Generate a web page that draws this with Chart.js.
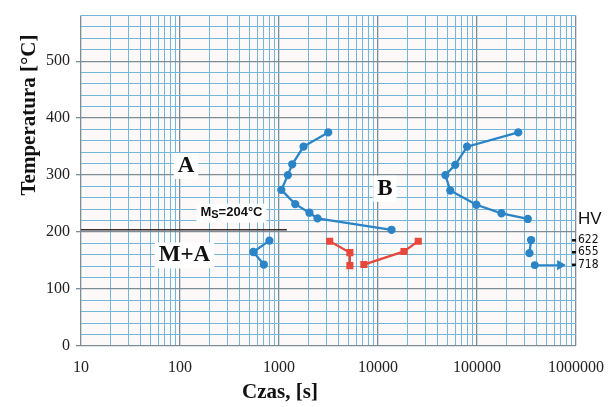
<!DOCTYPE html>
<html>
<head>
<meta charset="utf-8">
<script src="https://cdn.jsdelivr.net/npm/chart.js@4"></script>
<style>
  html, body { margin: 0; padding: 0; background: #fff; }
  canvas { display: block; }
</style>
</head>
<body>
<canvas id="ttt" width="616" height="407"></canvas>
<script>
// tick labels
const xTickLabels = [10, 100, 1000, 10000, 100000, 1000000];
const yTickLabels = [0, 100, 200, 300, 400, 500];

// upper blue C-curve (time s, temp C)
const curve1Time = [3140, 1770, 1360, 1230, 1055, 1460, 2030, 2450, 13700];
const curve1Temp = [375, 350, 319, 300, 274, 249, 234, 224, 204];

// right blue C-curve
const curve2Time = [261000, 79400, 60300, 47900, 53700, 98500, 176500, 326000];
const curve2Temp = [375, 350, 318, 300, 273, 248, 233, 223];

// short blue pieces below Ms
const curve3Time = [352000, 339000];
const curve3Temp = [186, 163];
const arrowTime = [383000, 690000];
const arrowTemp = [142, 142];
const smallTime = [800, 550, 703];
const smallTemp = [185, 165, 143];

// red curves
const red1Time = [3250, 5200, 5200];
const red1Temp = [184, 164, 141];
const red2Time = [7200, 18300, 25500];
const red2Temp = [143, 166, 184];

// Ms line
const msTemp = 204;
const msTime = [10, 1200];

// hardness labels
const hvLabels = ['622', '655', '718'];
const hvTemps = [186, 165, 143];

const BLUE = '#2b84c6';
const RED = '#e8473b';
const MAJOR = '#7b8e97';
const MINOR = '#72b7d8';

function pts(t, v) { return t.map((x, i) => ({ x: x, y: v[i] })); }
function isDecade(v) { const l = Math.log10(v); return Math.abs(l - Math.round(l)) < 1e-9; }

function blueSet(data) {
  return {
    data: data, showLine: true, borderColor: BLUE, backgroundColor: BLUE,
    borderWidth: 2.3, pointRadius: 3, pointHoverRadius: 3, tension: 0
  };
}

const arrowSet = blueSet(pts(arrowTime, arrowTemp));
arrowSet.borderWidth = 1.8;
arrowSet.pointStyle = (c) => c.dataIndex === 1 ? 'triangle' : 'circle';
arrowSet.pointRotation = (c) => c.dataIndex === 1 ? 90 : 0;
arrowSet.pointRadius = (c) => c.dataIndex === 1 ? 4 : 3;

function redSet(data) {
  return {
    data: data, showLine: true, borderColor: RED, backgroundColor: RED,
    borderWidth: 2.3, pointRadius: 3.4, pointStyle: 'rect', tension: 0
  };
}

const bgPlugin = {
  id: 'bg',
  beforeDraw(chart) {
    const a = chart.chartArea, c = chart.ctx;
    c.save();
    c.fillStyle = '#fdf9f8';
    c.fillRect(a.left, a.top, a.right - a.left, a.bottom - a.top);
    c.restore();
  }
};

function boxText(c, txt, x, y, font, pad) {
  c.font = font;
  const w = c.measureText(txt).width;
  c.fillStyle = '#ffffff';
  c.fillRect(x - w / 2 - pad, y - 11 - pad / 2, w + pad * 2, 22 + pad);
  c.fillStyle = '#111';
  c.textAlign = 'center';
  c.textBaseline = 'middle';
  c.fillText(txt, x, y);
}

const textPlugin = {
  id: 'texts',
  afterDatasetsDraw(chart) {
    const c = chart.ctx, xs = chart.scales.x, ys = chart.scales.y, a = chart.chartArea;
    c.save();
    boxText(c, 'A', xs.getPixelForValue(115), ys.getPixelForValue(316), 'bold 23px "Liberation Serif"', 4);
    boxText(c, 'B', xs.getPixelForValue(11750), ys.getPixelForValue(276), 'bold 23px "Liberation Serif"', 4);
    boxText(c, 'M+A', xs.getPixelForValue(111), ys.getPixelForValue(159), 'bold 23px "Liberation Serif"', 4);

    // Ms label
    const mx = xs.getPixelForValue(331), my = ys.getPixelForValue(234);
    c.font = 'bold 13px "Liberation Sans"';
    const wM = c.measureText('M').width, wR = c.measureText('=204°C').width;
    c.font = 'bold 11px "Liberation Sans"';
    const wS = c.measureText('S').width;
    const tw = wM + wS + wR;
    c.fillStyle = '#fff';
    c.fillRect(mx - tw / 2 - 4, my - 9, tw + 8, 19);
    c.fillStyle = '#111';
    c.textAlign = 'left';
    c.textBaseline = 'middle';
    let px = mx - tw / 2;
    c.font = 'bold 13px "Liberation Sans"';
    c.fillText('M', px, my);
    px += wM;
    c.font = 'bold 11px "Liberation Sans"';
    c.fillText('S', px, my + 2);
    px += wS;
    c.font = 'bold 13px "Liberation Sans"';
    c.fillText('=204°C', px, my);

    // HV labels outside the plot
    c.fillStyle = '#111';
    c.font = '17px "Liberation Sans"';
    c.textAlign = 'left';
    c.fillText('HV', a.right + 2, ys.getPixelForValue(222));
    c.font = '12px "Liberation Sans Narrow", "DejaVu Sans Condensed"';
    hvLabels.forEach((lab, i) => {
      const y = ys.getPixelForValue(hvTemps[i]);
      c.fillRect(a.right - 4, y - 1, 4, 2.5);
      c.fillText(lab, a.right + 2, y);
    });

    // axis titles
    c.font = 'bold 21px "Liberation Serif"';
    c.textAlign = 'center';
    c.fillText('Czas, [s]', 280, a.bottom + 47);
    c.translate(30, 115);
    c.rotate(-Math.PI / 2);
    c.fillText('Temperatura [°C]', 0, 0);
    c.restore();
  }
};

new Chart(document.getElementById('ttt'), {
  type: 'scatter',
  data: {
    datasets: [
      blueSet(pts(curve1Time, curve1Temp)),
      blueSet(pts(curve2Time, curve2Temp)),
      blueSet(pts(curve3Time, curve3Temp)),
      arrowSet,
      blueSet(pts(smallTime, smallTemp)),
      redSet(pts(red1Time, red1Temp)),
      redSet(pts(red2Time, red2Temp)),
      {
        data: pts(msTime, [msTemp, msTemp]), showLine: true, borderColor: '#3a2b2b',
        borderWidth: 1.6, pointRadius: 0, order: 10
      }
    ]
  },
  options: {
    responsive: false,
    animation: false,
    layout: { padding: { top: 12, right: 37, left: 0, bottom: 0 } },
    plugins: { legend: { display: false }, tooltip: { enabled: false } },
    scales: {
      x: {
        type: 'logarithmic', min: 10, max: 1000000,
        afterFit(s) { s.height = 61; },
        afterBuildTicks(s) {
          const t = [];
          for (let d = 10; d < 1000000; d *= 10)
            for (let k = 1; k < 10; k++) t.push({ value: d * k });
          t.push({ value: 1000000 });
          s.ticks = t;
        },
        border: { display: false },
        grid: {
          drawTicks: false,
          color: (c) => isDecade(c.tick.value) ? MAJOR : MINOR,
          lineWidth: (c) => isDecade(c.tick.value) ? 1.3 : 1
        },
        ticks: {
          autoSkip: false, maxRotation: 0, padding: 12,
          color: '#222', font: { family: '"Liberation Serif"', size: 16 },
          callback: (v) => xTickLabels.includes(v) ? String(v) : ''
        }
      },
      y: {
        min: 0, max: 580,
        afterFit(s) { s.width = 81; },
        border: { display: false },
        grid: {
          tickLength: 5,
          color: (c) => c.tick.value % 100 === 0 ? MAJOR : MINOR,
          tickColor: (c) => yTickLabels.includes(c.tick.value) ? MAJOR : 'rgba(0,0,0,0)',
          lineWidth: (c) => c.tick.value % 100 === 0 ? 1.3 : 1
        },
        ticks: {
          stepSize: 20, padding: 6, autoSkip: false,
          color: '#222', font: { family: '"Liberation Serif"', size: 16 },
          callback: (v) => yTickLabels.includes(v) ? String(v) : ''
        }
      }
    }
  },
  plugins: [bgPlugin, textPlugin]
});
</script>
</body>
</html>
